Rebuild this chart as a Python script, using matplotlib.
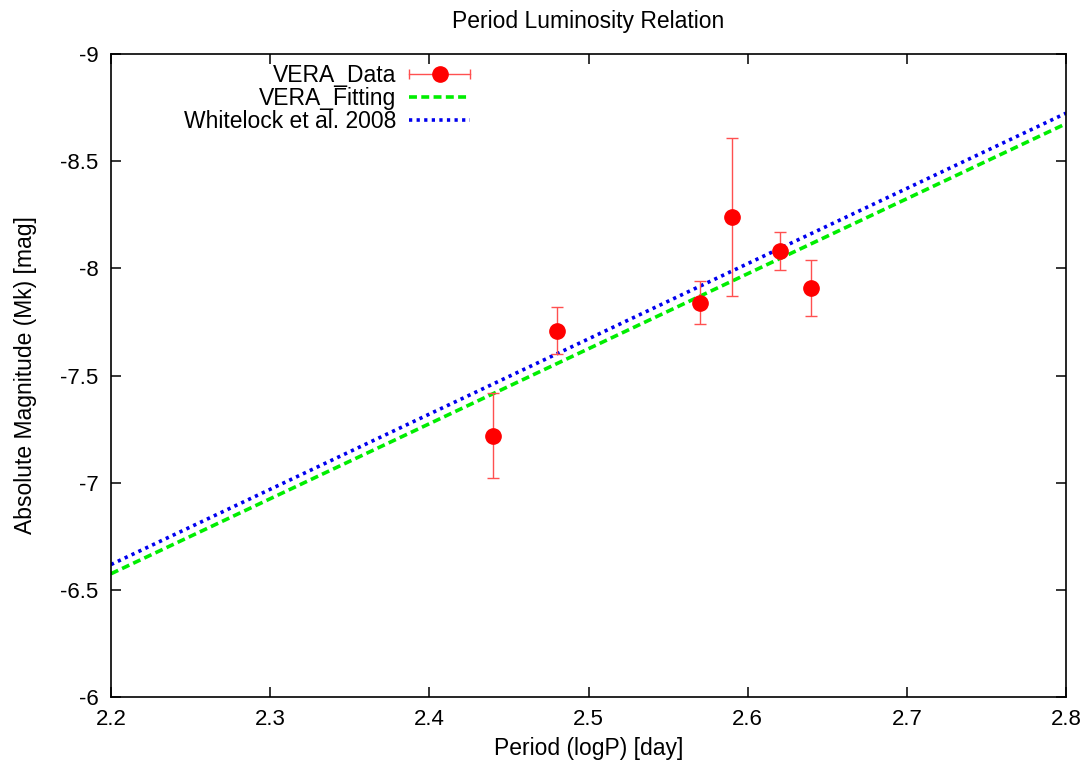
import numpy as np
import matplotlib
matplotlib.use('Agg')
import matplotlib.pyplot as plt
from matplotlib.lines import Line2D
from matplotlib.legend_handler import HandlerBase
from matplotlib.container import ErrorbarContainer

plt.rcParams['font.family'] = ['Liberation Sans', 'DejaVu Sans']

# VERA data: log period, absolute K magnitude, error
log_p = [2.44, 2.48, 2.57, 2.59, 2.62, 2.64]
mag_k = [-7.22, -7.71, -7.84, -8.24, -8.08, -7.91]
mag_err = [0.20, 0.11, 0.10, 0.37, 0.09, 0.13]

# fitted lines, evaluated at the x range ends
line_x = [2.2, 2.8]
vera_fit = [-6.575, -8.675]
whitelock = [-6.618, -8.724]

FS = 16.5


class HandlerHErr(HandlerBase):
    # gnuplot style key: horizontal bar with caps and point in the middle
    def create_artists(self, legend, orig_handle, xdescent, ydescent,
                       width, height, fontsize, trans):
        y = height / 2 - ydescent
        x0, x1 = -xdescent, width - xdescent
        bar = Line2D([x0, x1], [y, y], color='#ff5050', lw=1.0)
        caps = Line2D([x0, x1], [y, y], ls='none', marker='|', ms=7,
                      mew=1.0, color='#ff5050')
        pt = Line2D([(x0 + x1) / 2], [y], ls='none', marker='o', ms=11,
                    color='red', mec='red')
        for a in (bar, caps, pt):
            a.set_transform(trans)
        return [bar, caps, pt]


fig = plt.figure(figsize=(10.87, 7.61), dpi=100)
ax = fig.add_axes([0.1021, 0.0841, 0.8786, 0.8449])

eb = ax.errorbar(log_p, mag_k, yerr=mag_err, fmt='o', color='red', ms=11,
                 ecolor='#ff5050', elinewidth=1.0, capsize=4, capthick=1.0,
                 label='VERA_Data', zorder=3)
l1, = ax.plot(line_x, vera_fit, color='#00ee00', lw=2.6, dashes=(2.2, 1.2),
              label='VERA_Fitting', zorder=2)
l2, = ax.plot(line_x, whitelock, color='#0000ee', lw=2.6, dashes=(0.9, 1.2),
              label='Whitelock et al. 2008', zorder=2)

ax.set_xlim(2.2, 2.8)
ax.set_ylim(-6, -9)
ax.set_xticks(np.arange(2.2, 2.81, 0.1))
ax.set_xticklabels(['2.2', '2.3', '2.4', '2.5', '2.6', '2.7', '2.8'])
ax.set_yticks([-6, -6.5, -7, -7.5, -8, -8.5, -9])
ax.set_yticklabels(['-6', '-6.5', '-7', '-7.5', '-8', '-8.5', '-9'])
ax.tick_params(direction='in', length=7, width=1.1, top=True, right=True,
               labelsize=16)
ax.tick_params(axis='x', pad=9)
ax.tick_params(axis='y', pad=9)
for s in ax.spines.values():
    s.set_linewidth(1.2)

ax.set_title('Period Luminosity Relation', fontsize=FS, pad=19)
ax.set_xlabel('Period (logP) [day]', fontsize=FS, labelpad=5)
ax.set_ylabel('Absolute Magnitude (Mk) [mag]', fontsize=FS, labelpad=17)

ax.legend([eb, l1, l2], ['VERA_Data', 'VERA_Fitting', 'Whitelock et al. 2008'],
          loc='upper right', bbox_to_anchor=(0.376, 0.985), frameon=False,
          markerfirst=False, fontsize=FS, handlelength=2.66,
          handletextpad=0.57, borderpad=0, borderaxespad=0, labelspacing=0.0,
          handler_map={ErrorbarContainer: HandlerHErr()})

fig.savefig('out.png', dpi=100)
